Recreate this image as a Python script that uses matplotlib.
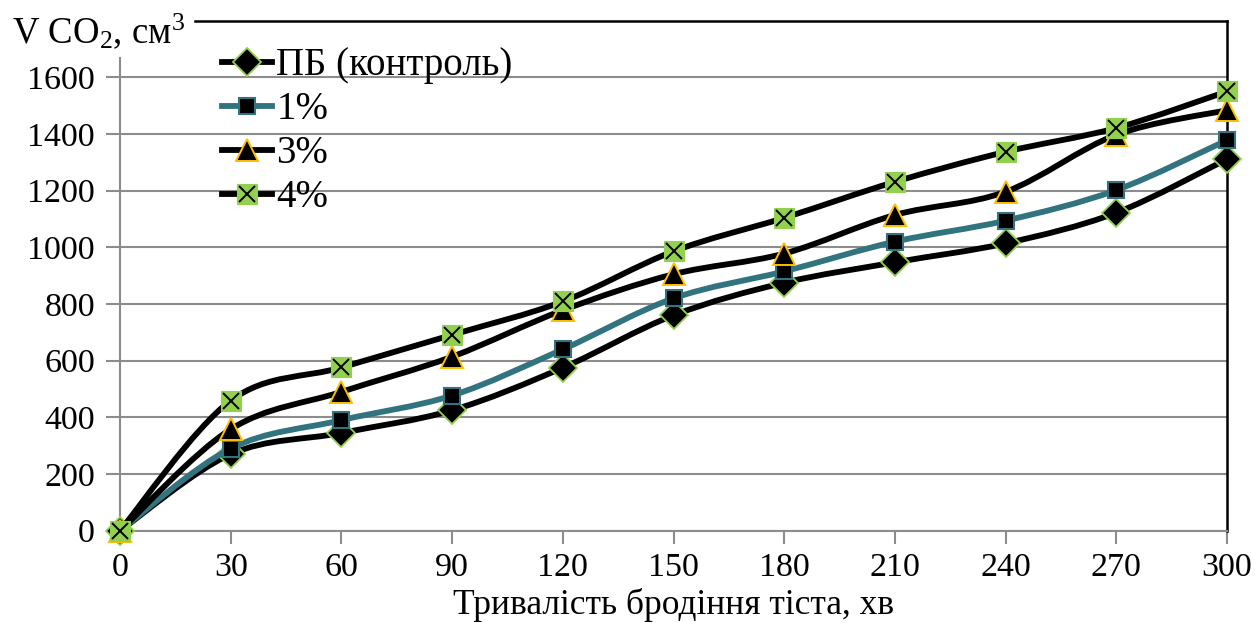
import numpy as np
import matplotlib
matplotlib.use("Agg")
import matplotlib.pyplot as plt
from matplotlib.path import Path
from matplotlib.patches import PathPatch
from matplotlib.lines import Line2D
from matplotlib.legend_handler import HandlerTuple

plt.rcParams['font.family'] = ['Liberation Serif', 'DejaVu Serif']
plt.rcParams['mathtext.fontset'] = 'custom'
plt.rcParams['mathtext.rm'] = 'Liberation Serif'
plt.rcParams['mathtext.default'] = 'regular'

# тривалість бродіння, хв
minutes = [0, 30, 60, 90, 120, 150, 180, 210, 240, 270, 300]

# об'єм CO2, см3
pb_control = [0, 270, 345, 425, 575, 760, 875, 947, 1014, 1122, 1311]
pct_1 = [0, 290, 390, 477, 640, 820, 915, 1020, 1094, 1202, 1378]
pct_3 = [0, 358, 490, 614, 778, 905, 978, 1114, 1196, 1397, 1484]
pct_4 = [0, 459, 576, 691, 809, 986, 1104, 1231, 1337, 1421, 1550]

labels = ['ПБ (контроль)', '1%', '3%', '4%']

teal = '#31737F'
green = '#92D050'
orange = '#FFC000'


def smooth_path(x, y):
    # bezier segments through the points (excel-like smoothed line)
    p = np.column_stack([x, y]).astype(float)
    n = len(p)
    verts = [p[0]]
    codes = [Path.MOVETO]
    for i in range(n - 1):
        p0 = p[i - 1] if i > 0 else p[i]
        p3 = p[i + 2] if i + 2 < n else p[i + 1]
        c1 = p[i] + (p[i + 1] - p0) / 6
        c2 = p[i + 1] - (p3 - p[i]) / 6
        verts += [c1, c2, p[i + 1]]
        codes += [Path.CURVE4] * 3
    return Path(verts, codes)


fig = plt.figure(figsize=(12.55, 6.23), dpi=100)
ax = fig.add_axes([120 / 1255, 92.3 / 623, 1107 / 1255, 510.1 / 623])

series = [
    (pb_control, 'black', dict(marker='D', ms=14, mfc='black', mec=green, mew=1.3)),
    (pct_1, teal, dict(marker='s', ms=12, mfc='black', mec=teal, mew=1.5)),
    (pct_3, 'black', dict(marker='^', ms=16, mfc='black', mec=orange, mew=1.4)),
    (pct_4, 'black', dict(marker='s', ms=14, mfc=green, mec=green, mew=0.8)),
]

handles = []
for k, (vals, col, mk) in enumerate(series):
    z = 3 + 2 * k
    ax.add_patch(PathPatch(smooth_path(minutes, vals), fill=False, edgecolor=col,
                           lw=4.2, capstyle='round', joinstyle='round', zorder=z))
    ax.plot(minutes, vals, linestyle='none', clip_on=False, zorder=z + 1, **mk)
    h = Line2D([], [], color=col, lw=4.2, **mk)
    if k == 3:
        ax.plot(minutes, vals, linestyle='none', marker='x', ms=12, mec='black',
                mew=1.4, clip_on=False, zorder=z + 1.5)
        hx = Line2D([], [], linestyle='none', marker='x', ms=12, mec='black', mew=1.4)
        h = (h, hx)
    handles.append(h)

ax.set_xlim(0, 300)
ax.set_ylim(0, 1800)
ax.set_xticks(minutes)
ax.set_yticks(range(0, 1601, 200))
ax.grid(axis='y', color='#8c8c8c', lw=1.5)
ax.set_axisbelow(True)

for s in ['left', 'bottom']:
    ax.spines[s].set_color('#8c8c8c')
    ax.spines[s].set_linewidth(1.5)
for s in ['top', 'right']:
    ax.spines[s].set_color('black')
    ax.spines[s].set_linewidth(1.8)
ax.spines['left'].set_bounds(0, 1668)
ax.spines['top'].set_bounds(20.3, 300)

ax.tick_params(axis='both', colors='#8c8c8c', width=1.5, labelcolor='black',
               labelsize=24.5)
ax.tick_params(axis='x', length=9, pad=7)
ax.tick_params(axis='y', length=10, pad=8)

ax.set_xlabel('Тривалість бродіння тіста, хв', fontsize=25.5, labelpad=3)
fig.text(12 / 1255, 1 - 43 / 623, 'V CO$_2$, см$^3$', fontsize=26.5,
         ha='left', va='baseline')

leg = ax.legend(handles, labels, loc='upper left', bbox_to_anchor=(0.078, 0.978),
                frameon=False, fontsize=28, handlelength=1.3, handletextpad=0.1,
                labelspacing=0.18, borderaxespad=0.0,
                handler_map={tuple: HandlerTuple(ndivide=1, pad=0)})

fig.savefig('out.png', dpi=100)
